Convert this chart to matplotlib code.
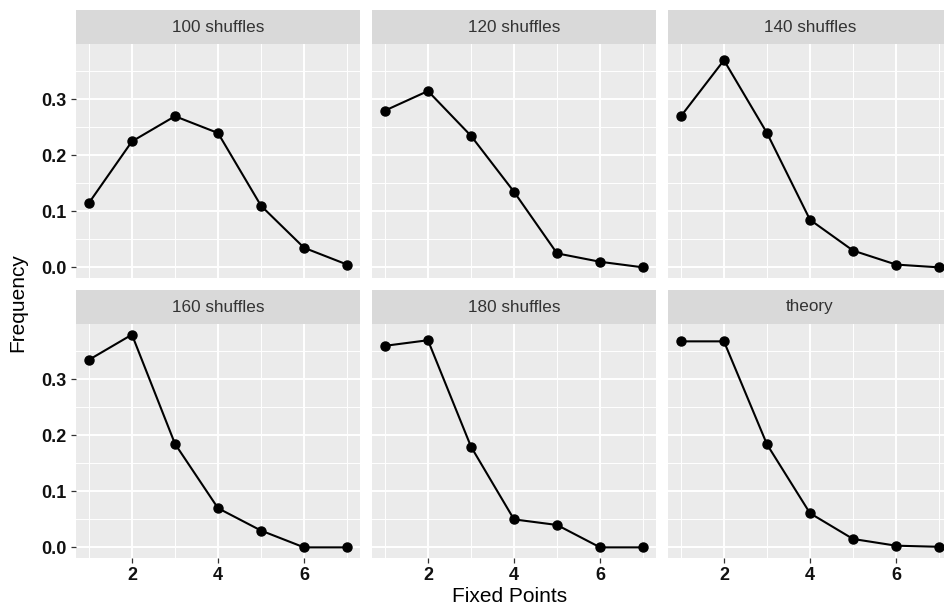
import matplotlib.pyplot as plt
from matplotlib.ticker import MultipleLocator, FormatStrFormatter

plt.rcParams['font.family'] = ['Liberation Sans', 'DejaVu Sans']

fixed_points = [1, 2, 3, 4, 5, 6, 7]
panel_titles = ['100 shuffles', '120 shuffles', '140 shuffles',
                '160 shuffles', '180 shuffles', 'theory']
freq_100 = [0.115, 0.225, 0.27, 0.24, 0.11, 0.035, 0.005]
freq_120 = [0.28, 0.315, 0.235, 0.135, 0.025, 0.01, 0.0]
freq_140 = [0.27, 0.37, 0.24, 0.085, 0.03, 0.005, 0.0]
freq_160 = [0.335, 0.38, 0.185, 0.07, 0.03, 0.0, 0.0]
freq_180 = [0.36, 0.37, 0.18, 0.05, 0.04, 0.0, 0.0]
freq_theory = [0.368, 0.368, 0.184, 0.061, 0.015, 0.003, 0.001]
all_freqs = [freq_100, freq_120, freq_140, freq_160, freq_180, freq_theory]

W, H = 944, 609
fig = plt.figure(figsize=(W / 100, H / 100), dpi=100)

col_left = [76, 372, 668]
panel_w = 284
strip_top = [10, 290]
strip_h = 34
panel_h = 234

# ggplot-like 5% expansion
xlo, xhi = min(fixed_points), max(fixed_points)
xpad = 0.05 * (xhi - xlo)
ymax = max(max(f) for f in all_freqs)
ypad = 0.05 * ymax


def fig_rect(left, top, w, h):
    return [left / W, 1 - (top + h) / H, w / W, h / H]


for i, (title, freq) in enumerate(zip(panel_titles, all_freqs)):
    r, c = divmod(i, 3)
    # strip
    sax = fig.add_axes(fig_rect(col_left[c], strip_top[r], panel_w, strip_h))
    sax.set_facecolor('#D9D9D9')
    sax.set_xticks([])
    sax.set_yticks([])
    for s in sax.spines.values():
        s.set_visible(False)
    sax.text(0.5, 0.5, title, ha='center', va='center', fontsize=12.3,
             color='#333333', transform=sax.transAxes)

    ax = fig.add_axes(fig_rect(col_left[c], strip_top[r] + strip_h, panel_w, panel_h))
    ax.set_facecolor('#EBEBEB')
    for s in ax.spines.values():
        s.set_visible(False)
    ax.plot(fixed_points, freq, color='black', lw=1.5, marker='o',
            markersize=6.5, zorder=3)
    ax.set_xlim(xlo - xpad, xhi + xpad)
    ax.set_ylim(-ypad, ymax + ypad)
    ax.xaxis.set_major_locator(MultipleLocator(2))
    ax.xaxis.set_minor_locator(MultipleLocator(1))
    ax.yaxis.set_major_locator(MultipleLocator(0.1))
    ax.yaxis.set_minor_locator(MultipleLocator(0.05))
    ax.yaxis.set_major_formatter(FormatStrFormatter('%.1f'))
    ax.grid(which='major', color='white', lw=1.4)
    ax.grid(which='minor', color='white', lw=0.7)
    ax.set_axisbelow(True)
    ax.tick_params(which='minor', length=0)
    ax.tick_params(which='major', length=3.5, width=0.9, color='#333333',
                   labelsize=13, labelcolor='#111111', pad=3)
    for lab in ax.get_xticklabels() + ax.get_yticklabels():
        lab.set_fontweight('bold')
    if c != 0:
        ax.tick_params(axis='y', left=False, labelleft=False)
    if r != 1:
        ax.tick_params(axis='x', bottom=False, labelbottom=False)

fig.text(510 / W, 1 - 597 / H, 'Fixed Points', ha='center', va='center',
         fontsize=15)
fig.text(18 / W, 1 - 303 / H, 'Frequency', ha='center', va='center',
         rotation=90, fontsize=15)

fig.savefig('out.png', dpi=100)
